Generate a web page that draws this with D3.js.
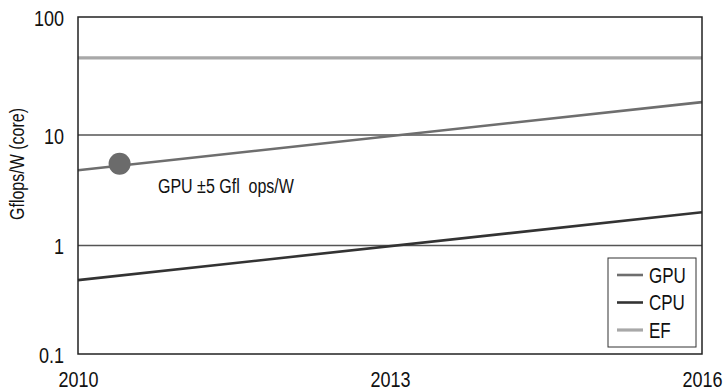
<!DOCTYPE html>
<html>
<head>
<meta charset="utf-8">
<script src="https://cdn.jsdelivr.net/npm/d3@7"></script>
<style>
  html, body { margin: 0; padding: 0; background: #fff; }
  svg { display: block; }
  text { font-family: "Liberation Sans", Arial, sans-serif; fill: #111; }
</style>
</head>
<body>
<svg id="chart" width="725" height="392"></svg>
<script>
// Efficiency trends (Gflops per watt, per core), log scale
const years = [2010, 2016];
const gpuValues = [4.8, 19];
const cpuValues = [0.48, 2.0];
const efValues = [45, 45];
const yTickValues = [0.1, 1, 10, 100];
const yTickLabels = ["0.1", "1", "10", "100"];
const xTickValues = [2010, 2013, 2016];
const markerPoint = { year: 2010.4, value: 5.5 };
const annotationText = "GPU \u00b15 Gfl  ops/W";
const seriesNames = ["GPU", "CPU", "EF"];

const colors = { GPU: "#6e6e6e", CPU: "#333333", EF: "#a8a8a8" };
const widths = { GPU: 2.6, CPU: 2.6, EF: 3.2 };
const stretch = 1.25; // glyphs are drawn slightly taller than wide

const svg = d3.select("#chart");
const plotLeft = 78, plotRight = 702, plotTop = 17, plotBottom = 354;

const x = d3.scaleLinear().domain([2010, 2016]).range([plotLeft, plotRight]);
const y = d3.scaleLog()
  .domain([0.1, 1, 10, 100])
  .range([plotBottom, 245.5, 135, plotTop]);

// Horizontal gridlines at inner decades
svg.append("g").selectAll("line")
  .data([1, 10])
  .join("line")
  .attr("x1", plotLeft).attr("x2", plotRight)
  .attr("y1", d => y(d)).attr("y2", d => y(d))
  .attr("stroke", "#555").attr("stroke-width", 1.5);

// Series lines
const series = [
  { name: "EF", values: efValues },
  { name: "GPU", values: gpuValues },
  { name: "CPU", values: cpuValues }
];
const line = d3.line().x(d => x(d[0])).y(d => y(d[1]));
svg.append("g").selectAll("path")
  .data(series)
  .join("path")
  .attr("d", s => line(years.map((yr, i) => [yr, s.values[i]])))
  .attr("fill", "none")
  .attr("stroke", s => colors[s.name])
  .attr("stroke-width", s => widths[s.name]);

// Highlighted GPU point
svg.append("circle")
  .attr("cx", x(markerPoint.year))
  .attr("cy", y(markerPoint.value))
  .attr("r", 11)
  .attr("fill", "#6b6b6b");

svg.append("text")
  .attr("transform", `translate(158,193) scale(1,${stretch})`)
  .attr("font-size", 16)
  .style("white-space", "pre")
  .text(annotationText);

// Plot frame
svg.append("rect")
  .attr("x", plotLeft).attr("y", plotTop)
  .attr("width", plotRight - plotLeft).attr("height", plotBottom - plotTop)
  .attr("fill", "none").attr("stroke", "#222").attr("stroke-width", 1.5);

// Y axis
const yAxis = d3.axisLeft(y)
  .tickValues(yTickValues)
  .tickFormat((d, i) => yTickLabels[i])
  .tickSize(0).tickPadding(14);
const gy = svg.append("g").attr("transform", `translate(${plotLeft},0)`).call(yAxis);
gy.select(".domain").remove();
gy.selectAll("text")
  .attr("font-size", 18)
  .attr("font-family", "'Liberation Sans', Arial, sans-serif")
  .attr("fill", "#111")
  .attr("dy", "0.36em")
  .attr("transform", `scale(1,${stretch})`);

// X axis
const xAxis = d3.axisBottom(x)
  .tickValues(xTickValues)
  .tickFormat(d3.format("d"))
  .tickSize(0).tickPadding(0);
const gx = svg.append("g").attr("transform", `translate(0,${plotBottom})`).call(xAxis);
gx.select(".domain").remove();
gx.selectAll("text")
  .attr("font-size", 18)
  .attr("font-family", "'Liberation Sans', Arial, sans-serif")
  .attr("fill", "#111")
  .attr("y", 33 / stretch)
  .attr("dy", 0)
  .attr("transform", `scale(1,${stretch})`);

// Y axis title
svg.append("text")
  .attr("transform", "translate(24,164) rotate(-90) scale(1,1.3)")
  .attr("text-anchor", "middle")
  .attr("font-size", 16)
  .text("Gflops/W (core)");

// Legend
const legend = svg.append("g");
legend.append("rect")
  .attr("x", 608).attr("y", 258)
  .attr("width", 88).attr("height", 89)
  .attr("fill", "#fff").attr("stroke", "#333").attr("stroke-width", 1);
const legendY = d3.scalePoint().domain(seriesNames).range([275, 330]);
const items = legend.selectAll("g.item")
  .data(seriesNames)
  .join("g").attr("class", "item")
  .attr("transform", d => `translate(0,${legendY(d)})`);
items.append("line")
  .attr("x1", 617).attr("x2", 643)
  .attr("stroke", d => colors[d])
  .attr("stroke-width", d => widths[d]);
items.append("text")
  .attr("transform", `translate(649,0) scale(1,${stretch})`)
  .attr("dy", "0.36em")
  .attr("font-size", 17)
  .text(d => d);
</script>
</body>
</html>
